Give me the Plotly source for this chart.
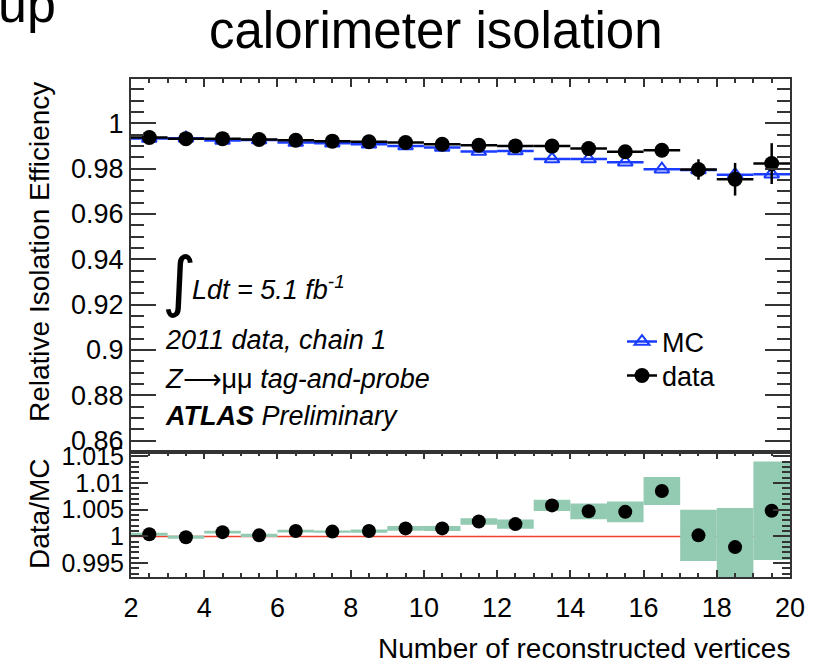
import plotly.graph_objects as go

# Bins of the number of reconstructed vertices (centres, half-widths)
nvtx = [2.5, 3.5, 4.5, 5.5, 6.5, 7.5, 8.5, 9.5, 10.5, 11.5, 12.5, 13.5, 14.5, 15.5, 16.5, 17.5, 18.5, 19.5]
half_width = [0.5] * 18

# Relative isolation efficiency, data
data_eff = [0.9937, 0.9932, 0.9932, 0.9928, 0.9925, 0.9921, 0.9918, 0.9915, 0.9907, 0.9903,
            0.9900, 0.9899, 0.9888, 0.9874, 0.9881, 0.9796, 0.9753, 0.9822]
data_err = [0.0003, 0.0003, 0.00025, 0.0003, 0.00025, 0.00022, 0.0003, 0.00044, 0.00047, 0.0006,
            0.0009, 0.0010, 0.0015, 0.0019, 0.0026, 0.0045, 0.0072, 0.0090]

# Relative isolation efficiency, simulation
mc_eff = [0.9933, 0.9934, 0.9924, 0.9926, 0.9915, 0.9912, 0.9907, 0.9900, 0.9893, 0.9875,
          0.9877, 0.9842, 0.9842, 0.9828, 0.9797, 0.9794, 0.9773, 0.9775]

# Data/MC ratio and its uncertainty band
ratio = [1.0004, 0.99985, 1.0008, 1.0002, 1.0010, 1.0009, 1.0010, 1.0015, 1.0015, 1.0028,
         1.0023, 1.0058, 1.0047, 1.0046, 1.0085, 1.0002, 0.9980, 1.0048]
ratio_err = [0.0003, 0.0003, 0.00025, 0.0003, 0.00025, 0.00022, 0.0003, 0.00044, 0.00047, 0.00062,
             0.00087, 0.00106, 0.00147, 0.00194, 0.0026, 0.0048, 0.0073, 0.0092]

main_ticks = [0.86, 0.88, 0.90, 0.92, 0.94, 0.96, 0.98, 1.00]
main_ticktext = ["0.86", "0.88", "0.9", "0.92", "0.94", "0.96", "0.98", "1"]
ratio_ticks = [0.995, 1.0, 1.005, 1.01, 1.015]
ratio_ticktext = ["0.995", "1", "1.005", "1.01", "1.015"]
x_ticks = [2, 4, 6, 8, 10, 12, 14, 16, 18, 20]

W, H = 826, 664
FONT = "Liberation Sans, Arial, Helvetica, sans-serif"
FS = 27
BLUE = "#1a3cff"
GREEN = "#93cab2"
RED = "#f2402e"
FRAME = "#333333"


def px_x(x):
    return x / W


def px_y(y):
    return 1 - y / H


fig = go.Figure()

# ---- upper panel: efficiencies ----
fig.add_trace(go.Scatter(
    x=nvtx, y=mc_eff, mode="markers", showlegend=False,
    marker=dict(symbol="triangle-up-open", size=13, color=BLUE, line=dict(width=2, color=BLUE)),
    error_x=dict(type="data", array=half_width, color=BLUE, thickness=2.5, width=0),
    xaxis="x", yaxis="y"))
fig.add_trace(go.Scatter(
    x=nvtx, y=data_eff, mode="markers", showlegend=False,
    marker=dict(symbol="circle", size=15, color="black"),
    error_x=dict(type="data", array=half_width, color="black", thickness=2.5, width=0),
    error_y=dict(type="data", array=data_err, color="black", thickness=2.5, width=0),
    xaxis="x", yaxis="y"))

# legend entries, one legend box per row
fig.add_trace(go.Scatter(
    x=[None], y=[None], mode="lines+markers", name="MC", legend="legend",
    marker=dict(symbol="triangle-up-open", size=13, color=BLUE, line=dict(width=2, color=BLUE)),
    line=dict(color=BLUE, width=2.5), xaxis="x", yaxis="y"))
fig.add_trace(go.Scatter(
    x=[None], y=[None], mode="lines+markers", name="data", legend="legend2",
    marker=dict(symbol="circle", size=15, color="black"),
    line=dict(color="black", width=2.5), xaxis="x", yaxis="y"))

# ---- lower panel: Data/MC ----
fig.add_trace(go.Bar(
    x=nvtx, y=[2 * e for e in ratio_err], base=[r - e for r, e in zip(ratio, ratio_err)],
    width=1.0, marker=dict(color=GREEN, line=dict(width=0)), showlegend=False,
    xaxis="x2", yaxis="y2"))
fig.add_trace(go.Scatter(
    x=nvtx, y=ratio, mode="markers", showlegend=False,
    marker=dict(symbol="circle", size=14, color="black"),
    xaxis="x2", yaxis="y2"))

# unity line in the ratio panel
fig.add_shape(type="line", xref="x2", yref="y2", x0=2, x1=20, y0=1, y1=1,
              line=dict(color=RED, width=1.5), layer="below")

xdom = [px_x(131), px_x(790)]
axis_common = dict(showline=True, linecolor=FRAME, linewidth=2, ticks="inside",
                   tickcolor=FRAME, tickwidth=1.5, showgrid=False, zeroline=False,
                   automargin=False)
legend_common = dict(xanchor="left", yanchor="middle", bgcolor="rgba(0,0,0,0)",
                     font=dict(family=FONT, size=FS, color="black"), itemwidth=30)

fig.update_layout(
    template="none",
    width=W, height=H, autosize=False,
    margin=dict(l=0, r=0, t=0, b=0, pad=0),
    paper_bgcolor="white", plot_bgcolor="white",
    font=dict(family=FONT, size=FS, color="black"),
    barmode="overlay",
    xaxis=dict(domain=xdom, range=[2, 20], anchor="y", side="top", mirror=True,
               showticklabels=False, tickvals=x_ticks, ticklen=8,
               minor=dict(dtick=0.5, tick0=2, ticklen=4, ticks="inside", tickcolor=FRAME),
               **axis_common),
    yaxis=dict(domain=[px_y(452), px_y(79)], range=[0.855, 1.0195], anchor="x",
               mirror="allticks", tickvals=main_ticks, ticktext=main_ticktext, ticklen=25,
               tickfont=dict(family=FONT, size=FS, color="black"),
               minor=dict(dtick=0.005, tick0=0.86, ticklen=13, ticks="inside", tickcolor=FRAME),
               **axis_common),
    xaxis2=dict(domain=xdom, range=[2, 20], anchor="y2", mirror="allticks",
                tickvals=x_ticks, ticklen=7, ticklabelstandoff=6,
                tickfont=dict(family=FONT, size=FS, color="black"),
                minor=dict(dtick=0.5, tick0=2, ticklen=4, ticks="inside", tickcolor=FRAME),
                **axis_common),
    yaxis2=dict(domain=[px_y(577), px_y(452)], range=[0.9924, 1.0158], anchor="x2",
                mirror="allticks", tickvals=ratio_ticks, ticktext=ratio_ticktext, ticklen=17,
                tickfont=dict(family=FONT, size=25, color="black"),
                minor=dict(dtick=0.001, tick0=0.995, ticklen=8, ticks="inside", tickcolor=FRAME),
                **axis_common),
    legend=dict(x=px_x(622), y=px_y(342), **legend_common),
    legend2=dict(x=px_x(622), y=px_y(376), **legend_common),
)

ann = []
# headline text
ann.append(dict(text="calorimeter isolation", x=px_x(436), y=px_y(30), xanchor="center",
                yanchor="middle", font=dict(family=FONT, size=51, color="black")))
ann.append(dict(text="up", x=px_x(-4), y=px_y(4), xanchor="left", yanchor="middle",
                font=dict(family=FONT, size=52, color="black")))
# axis titles
ann.append(dict(text="Relative Isolation Efficiency", x=px_x(39), y=px_y(252), textangle=-90,
                xanchor="center", yanchor="middle", font=dict(family=FONT, size=28)))
ann.append(dict(text="Data/MC", x=px_x(39), y=px_y(514), textangle=-90,
                xanchor="center", yanchor="middle", font=dict(family=FONT, size=28)))
ann.append(dict(text="Number of reconstructed vertices", x=px_x(792), y=px_y(648),
                xanchor="right", yanchor="middle", font=dict(family=FONT, size=28)))
# luminosity and selection labels
ann.append(dict(text="∫", x=px_x(160), y=px_y(282), xanchor="left", yanchor="middle",
                font=dict(family="DejaVu Sans", size=66)))
ann.append(dict(text="<i>Ldt = 5.1 fb<sup>-1</sup></i>", x=px_x(190), y=px_y(288),
                xanchor="left", yanchor="middle", font=dict(family=FONT, size=FS)))
ann.append(dict(text="<i>2011 data, chain 1</i>", x=px_x(163), y=px_y(340),
                xanchor="left", yanchor="middle", font=dict(family=FONT, size=FS)))
ann.append(dict(text="<i>Z</i>⟶μμ <i>tag-and-probe</i>", x=px_x(163), y=px_y(379),
                xanchor="left", yanchor="middle", font=dict(family=FONT, size=FS)))
ann.append(dict(text="<b><i>ATLAS</i></b> <i>Preliminary</i>", x=px_x(163), y=px_y(416),
                xanchor="left", yanchor="middle", font=dict(family=FONT, size=FS)))
for a in ann:
    a.update(xref="paper", yref="paper", showarrow=False)
fig.update_layout(annotations=ann)

fig.write_html(
    "out.html",
    config={"responsive": False},
    post_script="document.body.style.margin='0px';document.body.style.overflow='hidden';",
)
